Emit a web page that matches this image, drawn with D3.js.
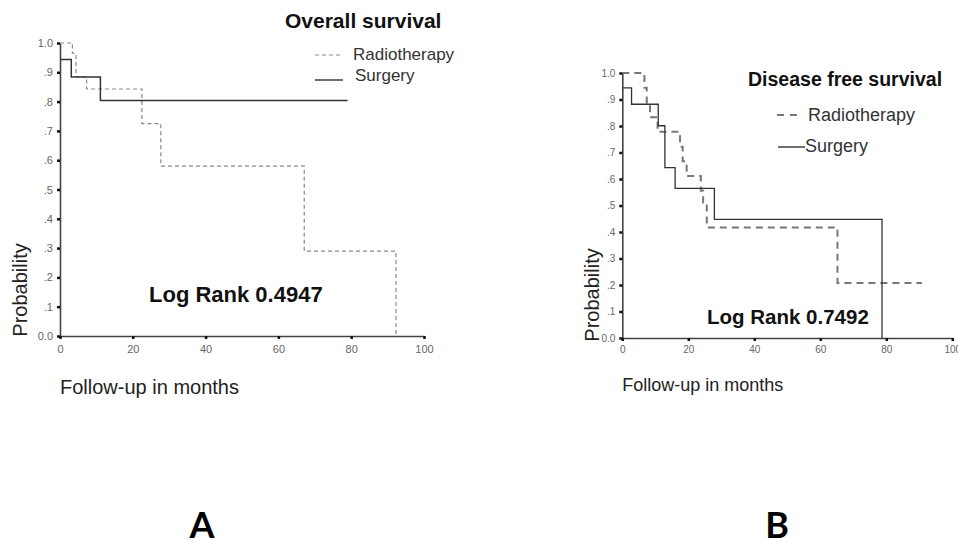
<!DOCTYPE html>
<html>
<head>
<meta charset="utf-8">
<script src="https://cdn.jsdelivr.net/npm/d3@7"></script>
<style>
  body { margin: 0; background: #fff; }
  svg { display: block; font-family: "Liberation Sans", Arial, sans-serif; }
</style>
</head>
<body>
<svg id="chart" width="958" height="541"></svg>
<script>
// axis ticks
var monthTicks = [0, 20, 40, 60, 80, 100];
var probTicks = [0, .1, .2, .3, .4, .5, .6, .7, .8, .9, 1];
var probTickLabels = ["0.0", ".1", ".2", ".3", ".4", ".5", ".6", ".7", ".8", ".9", "1.0"];

// A: overall survival (time in months, survival holds until next time)
var osRadioTimes = [0, 3.4, 4.4, 7.3, 22.5, 27.7, 67.1, 92.3];
var osRadioSurv  = [1.0, 0.965, 0.885, 0.843, 0.725, 0.58, 0.29, 0.0];
var osSurgTimes  = [0, 3.1, 11.1, 79];
var osSurgSurv   = [0.944, 0.884, 0.804, 0.804];

// B: disease free survival
var dfsRadioTimes = [0, 6.7, 7.4, 8.4, 10.7, 17.5, 18.3, 19.5, 23.8, 24.5, 25.6, 65.2, 90.8];
var dfsRadioSurv  = [1.0, 0.944, 0.889, 0.833, 0.778, 0.722, 0.667, 0.611, 0.556, 0.51, 0.417, 0.208, 0.208];
var dfsSurgTimes  = [0, 2.8, 10.9, 12.9, 16, 27.9, 78.7];
var dfsSurgSurv   = [0.944, 0.882, 0.801, 0.643, 0.565, 0.448, 0];

var seriesNames = ["Radiotherapy", "Surgery"];

var svg = d3.select("#chart");

function pairs(times, surv) {
  return times.map(function(t, i) { return [t, surv[i]]; });
}

function drawPanel(p) {
  var x = d3.scaleLinear().domain([0, 100]).range(p.xr);
  var y = d3.scaleLinear().domain([0, 1]).range(p.yr);
  var g = svg.append("g");

  var line = d3.line()
    .x(function(d) { return x(d[0]); })
    .y(function(d) { return y(d[1]); })
    .curve(d3.curveStepAfter);

  // radiotherapy (dashed)
  g.append("path")
    .datum(pairs(p.radioTimes, p.radioSurv))
    .attr("d", line)
    .attr("fill", "none")
    .attr("stroke", p.dashColor)
    .attr("stroke-width", p.dashWidth)
    .attr("stroke-dasharray", p.dash);

  // surgery (solid)
  g.append("path")
    .datum(pairs(p.surgTimes, p.surgSurv))
    .attr("d", line)
    .attr("fill", "none")
    .attr("stroke", "#333")
    .attr("stroke-width", p.solidWidth);

  // axes
  var yAxis = g.append("g")
    .attr("transform", "translate(" + p.xr[0] + ",0)")
    .call(d3.axisLeft(y).tickValues(probTicks)
      .tickFormat(function(d, i) { return probTickLabels[i]; })
      .tickSize(3).tickPadding(4).tickSizeOuter(0));
  var xAxis = g.append("g")
    .attr("transform", "translate(0," + p.yr[0] + ")")
    .call(d3.axisBottom(x).tickValues(monthTicks)
      .tickSize(3).tickPadding(p.xPad).tickSizeOuter(0));

  [yAxis, xAxis].forEach(function(a) {
    a.select(".domain").attr("stroke", "#444").attr("stroke-width", 1.6);
    a.selectAll(".tick line").attr("stroke", "#111").attr("stroke-width", 2.5);
    a.selectAll(".tick text")
      .attr("fill", "#666")
      .style("font-family", "Liberation Sans, Arial, sans-serif")
      .style("font-size", p.tickFont + "px");
  });

  // title
  g.append("text")
    .attr("x", p.titleX).attr("y", p.titleY)
    .style("font-size", p.titleFont + "px").style("font-weight", "bold")
    .attr("fill", "#111")
    .text(p.title);

  // legend
  g.append("line")
    .attr("x1", p.leg.dashX[0]).attr("x2", p.leg.dashX[1])
    .attr("y1", p.leg.dashY).attr("y2", p.leg.dashY)
    .attr("stroke", p.dashColor).attr("stroke-width", p.dashWidth)
    .attr("stroke-dasharray", p.legDash);
  g.append("text")
    .attr("x", p.leg.textX[0]).attr("y", p.leg.textY[0])
    .style("font-size", p.legFont + "px").attr("fill", "#333")
    .text(seriesNames[0]);
  g.append("line")
    .attr("x1", p.leg.solidX[0]).attr("x2", p.leg.solidX[1])
    .attr("y1", p.leg.solidY).attr("y2", p.leg.solidY)
    .attr("stroke", "#222").attr("stroke-width", 1.3);
  g.append("text")
    .attr("x", p.leg.textX[1]).attr("y", p.leg.textY[1])
    .style("font-size", p.legFont + "px").attr("fill", "#333")
    .text(seriesNames[1]);

  // log rank
  g.append("text")
    .attr("x", p.rankX).attr("y", p.rankY)
    .style("font-size", p.rankFont + "px").style("font-weight", "bold")
    .attr("fill", "#111")
    .text(p.rank);

  // axis titles
  g.append("text")
    .attr("transform", "translate(" + p.probX + "," + p.probY + ") rotate(-90)")
    .attr("text-anchor", "middle")
    .style("font-size", "20px").attr("fill", "#222")
    .text("Probability");
  g.append("text")
    .attr("x", p.xr[0]).attr("y", p.xLabY)
    .style("font-size", p.xLabFont + "px").attr("fill", "#222")
    .text("Follow-up in months");

  // panel letter
  g.append("text")
    .attr("x", p.letterX).attr("y", 538)
    .attr("text-anchor", "middle")
    .style("font-family", "Lato, 'Open Sans', sans-serif")
    .style("font-size", "36px").style("font-weight", "bold")
    .attr("fill", "#000")
    .text(p.letter);
}

drawPanel({
  xr: [60, 424], yr: [336, 43],
  radioTimes: osRadioTimes, radioSurv: osRadioSurv,
  surgTimes: osSurgTimes, surgSurv: osSurgSurv,
  dashColor: "#888", dashWidth: 1.2, dash: "4,3", legDash: "4,3", solidWidth: 1.5,
  tickFont: 11, xPad: 6,
  title: "Overall survival", titleX: 285, titleY: 28, titleFont: 21,
  legFont: 17,
  leg: { dashX: [315, 343], dashY: 55, solidX: [315, 343], solidY: 80,
         textX: [353, 355], textY: [60, 81] },
  rank: "Log Rank 0.4947", rankX: 149, rankY: 302, rankFont: 22,
  probX: 27, probY: 290,
  xLabY: 394, xLabFont: 20,
  letter: "A", letterX: 202
});

drawPanel({
  xr: [622.3, 952.3], yr: [338, 73],
  radioTimes: dfsRadioTimes, radioSurv: dfsRadioSurv,
  surgTimes: dfsSurgTimes, surgSurv: dfsSurgSurv,
  dashColor: "#777", dashWidth: 2, dash: "7,5", legDash: "7,6", solidWidth: 1.3,
  tickFont: 10, xPad: 5,
  title: "Disease free survival", titleX: 748, titleY: 86, titleFont: 19.5,
  legFont: 18,
  leg: { dashX: [777, 799], dashY: 115, solidX: [778, 805], solidY: 147,
         textX: [808, 805], textY: [121, 152] },
  rank: "Log Rank 0.7492", rankX: 707, rankY: 324, rankFont: 20.5,
  probX: 599, probY: 295,
  xLabY: 391, xLabFont: 18,
  letter: "B", letterX: 777
});
</script>
</body>
</html>
